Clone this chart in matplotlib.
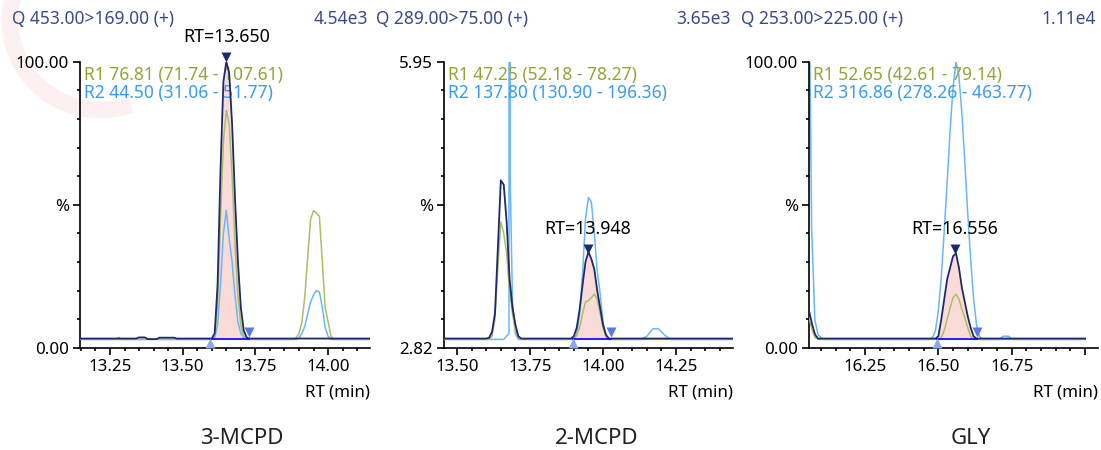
import numpy as np
import matplotlib.pyplot as plt
from matplotlib.patches import Arc
from matplotlib.ticker import FixedLocator, MultipleLocator
from matplotlib.transforms import offset_copy

plt.rcParams['font.family'] = ['Noto Sans', 'DejaVu Sans']

titles = ['3-MCPD', '2-MCPD', 'GLY']
headers = ['Q 453.00>169.00 (+)', 'Q 289.00>75.00 (+)', 'Q 253.00>225.00 (+)']
scales = ['4.54e3', '3.65e3', '1.11e4']
ymin_labels = ['0.00', '2.82', '0.00']
ymax_labels = ['100.00', '5.95', '100.00']
r1_labels = ['R1 76.81 (71.74 - 107.61)', 'R1 47.25 (52.18 - 78.27)', 'R1 52.65 (42.61 - 79.14)']
r2_labels = ['R2 44.50 (31.06 - 51.77)', 'R2 137.80 (130.90 - 196.36)', 'R2 316.86 (278.26 - 463.77)']
apex_rt = [13.650, 13.948, 16.556]
int_start = [13.595, 13.898, 16.494]
int_end = [13.728, 14.028, 16.630]
base_level = 3.2

# 3-MCPD
p1_rt_quan = [13.147, 13.34, 13.35, 13.37, 13.38, 13.41, 13.42, 13.47, 13.48, 13.60, 13.61, 13.62,
              13.63, 13.64, 13.65, 13.66, 13.67, 13.68, 13.69, 13.70, 13.71, 13.72, 13.73, 14.144]
p1_quan = [3.2, 3.2, 3.6, 3.6, 3.0, 3.0, 3.5, 3.5, 3.2, 3.2, 5, 22,
           62, 93, 100, 96, 78, 52, 30, 14, 6, 3.6, 3.2, 3.2]
p1_rt_q1 = [13.147, 13.60, 13.61, 13.62, 13.63, 13.64, 13.65, 13.66, 13.67, 13.68, 13.69, 13.70, 13.71,
            13.72, 13.88, 13.89, 13.90, 13.91, 13.92, 13.93, 13.94, 13.95, 13.96, 13.97, 13.98, 13.99,
            14.00, 14.01, 14.02, 14.144]
p1_q1 = [2.9, 2.9, 4, 15, 45, 72, 83, 78, 60, 36, 18, 8, 4,
         2.9, 2.9, 3.4, 5, 9, 18, 32, 45, 48, 47, 46, 30, 14,
         9, 4, 2.9, 2.9]
p1_rt_q2 = [13.147, 13.27, 13.28, 13.29, 13.60, 13.61, 13.62, 13.63, 13.64, 13.65, 13.66, 13.67, 13.68,
            13.69, 13.70, 13.71, 13.72, 13.89, 13.90, 13.91, 13.92, 13.93, 13.94, 13.95, 13.96, 13.97,
            13.98, 13.99, 14.00, 14.01, 14.144]
p1_q2 = [2.9, 2.9, 3.6, 2.9, 2.9, 3.5, 8, 22, 40, 48, 38, 30, 18,
         9, 5, 3.4, 2.9, 2.9, 3.4, 5, 7.5, 12, 16, 18.5, 20, 19.5,
         14, 7, 4, 2.9, 2.9]

# 2-MCPD
p2_rt_quan = [13.4555, 13.60, 13.61, 13.62, 13.63, 13.64, 13.65, 13.66, 13.67, 13.68, 13.69, 13.70,
              13.71, 13.72, 13.89, 13.90, 13.91, 13.92, 13.93, 13.94, 13.95, 13.96, 13.97, 13.98,
              13.99, 14.00, 14.01, 14.02, 14.445]
p2_quan = [3.2, 3.2, 3.5, 5.5, 12, 35, 58.5, 57, 44, 24, 14, 8,
           4, 3.2, 3.2, 4, 7, 13.5, 22, 30, 33.5, 31, 27.5, 20,
           14, 8, 4.5, 3.2, 3.2]
p2_rt_q1 = [13.4555, 13.61, 13.62, 13.63, 13.64, 13.65, 13.66, 13.67, 13.68, 13.69, 13.70, 13.71,
            13.72, 13.90, 13.91, 13.92, 13.93, 13.94, 13.95, 13.96, 13.97, 13.98, 13.99, 14.00,
            14.01, 14.02, 14.445]
p2_q1 = [2.9, 2.9, 4, 10, 28, 44, 40, 33, 20, 12, 6, 3.5,
         2.9, 2.9, 4.5, 7, 12, 16, 16.5, 17.5, 18.7, 17, 12, 7,
         4, 2.9, 2.9]
p2_rt_q2 = [13.4555, 13.66, 13.678, 13.680, 13.682, 13.69, 13.70, 13.71, 13.90, 13.91, 13.92, 13.93,
            13.94, 13.95, 13.96, 13.97, 13.98, 13.99, 14.00, 14.01, 14.02, 14.13, 14.15, 14.17,
            14.19, 14.21, 14.23, 14.445]
p2_q2 = [2.9, 2.9, 5, 2000, 60, 16, 5, 2.9, 2.9, 4.5, 12, 26,
         45, 52.5, 51, 40, 27, 19, 9, 4, 2.9, 2.9, 4, 6.6,
         6.6, 4.5, 2.9, 2.9]

# GLY
p3_rt_quan = [16.059, 16.07, 16.08, 16.09, 16.49, 16.50, 16.51, 16.52, 16.53, 16.54, 16.55, 16.56,
              16.57, 16.58, 16.59, 16.60, 16.61, 16.62, 16.63, 17.00]
p3_quan = [13, 8, 4.5, 3.2, 3.2, 4, 10, 17, 24, 28, 32, 33,
           28, 21, 16, 11, 7, 4, 3.2, 3.2]
p3_rt_q1 = [16.059, 16.07, 16.08, 16.09, 16.50, 16.51, 16.52, 16.53, 16.54, 16.55, 16.56, 16.57,
            16.58, 16.59, 16.60, 16.61, 16.62, 17.00]
p3_q1 = [10.5, 6, 3.5, 2.9, 2.9, 3.6, 6, 10, 14, 17.5, 18.7, 17,
         13.5, 10.5, 7, 4, 2.9, 2.9]
p3_rt_q2 = [16.059, 16.068, 16.079, 16.09, 16.108, 16.47, 16.48, 16.49, 16.50, 16.51, 16.52, 16.53,
            16.54, 16.55, 16.56, 16.57, 16.58, 16.59, 16.60, 16.61, 16.62, 16.63, 16.64, 16.65,
            16.71, 16.72, 16.74, 16.75, 17.00]
p3_q2 = [130, 42, 9.7, 4.5, 2.9, 2.9, 3.5, 6, 13, 25, 41, 58,
         76, 91, 100, 95, 82, 65, 47, 31, 17, 8, 4, 2.9,
         2.9, 4, 4, 2.9, 2.9]

x_ticks = [[13.25, 13.50, 13.75, 14.00],
           [13.50, 13.75, 14.00, 14.25],
           [16.25, 16.50, 16.75, 17.00]]
x_ticklabels = [['13.25', '13.50', '13.75', '14.00'],
                ['13.50', '13.75', '14.00', '14.25'],
                ['16.25', '16.50', '16.75', '']]

traces = [(p1_rt_quan, p1_quan, p1_rt_q1, p1_q1, p1_rt_q2, p1_q2),
          (p2_rt_quan, p2_quan, p2_rt_q1, p2_q1, p2_rt_q2, p2_q2),
          (p3_rt_quan, p3_quan, p3_rt_q1, p3_q1, p3_rt_q2, p3_q2)]

#========== colores ==========
c_head = '#3b4a8a'
c_quan = '#1d2b6a'
c_q1_txt = '#8fa834'
c_q2_txt = '#3a9cf0'
c_q1 = '#a9bf68'
c_q2 = '#6cb6f6'
c_fill = '#fadbd7'
c_int = '#1010ff'
c_start = '#8ea6f2'
c_end = '#5a78e4'

W, H = 1101, 450
fig = plt.figure(figsize=(W / 100, H / 100), dpi=100)

# marca de agua tenue (esquina superior izquierda)
wm = Arc((100, 430), 180, 180, theta1=150, theta2=290, transform=None,
         lw=12, color='#fdf0f1', zorder=0)
fig.add_artist(wm)

# [izq, der, arriba, abajo] en pixeles
boxes = [(80, 370, 61.7, 347.7), (444, 733, 61.7, 347.7), (809, 1098, 61.7, 347.7)]
xlims = [(13.147, 14.144), (13.4555, 14.445), (16.059, 17.044)]
title_x = [242, 597, 971]

for i in range(3):
    l, r, t, b = boxes[i]
    ax = fig.add_axes([l / W, 1 - b / H, (r - l) / W, (b - t) / H])
    rtq, q, rt1, y1, rt2, y2 = [np.array(a, dtype=float) for a in traces[i]]

    # relleno del pico integrado
    m = (rtq > int_start[i]) & (rtq < int_end[i])
    xf = np.concatenate([[int_start[i]], rtq[m], [int_end[i]]])
    yf = np.interp(xf, rtq, q)
    ax.fill_between(xf, base_level, yf, color=c_fill, lw=0, zorder=1)

    ax.plot(rt2, y2, color=c_q2, lw=1.1, zorder=2)
    ax.plot(rt1, y1, color=c_q1, lw=1.1, zorder=3)
    ax.plot(rtq, q, color=c_quan, lw=1.3, zorder=4)
    ax.plot([int_start[i], int_end[i]], [base_level] * 2, color=c_int, lw=1.3, zorder=5)

    tr_dn = offset_copy(ax.transData, fig=fig, x=0, y=6.5, units='dots')
    tr_up = offset_copy(ax.transData, fig=fig, x=0, y=-4.5, units='dots')
    ax.plot(int_start[i], base_level, marker='^', ms=7, color=c_start, mec='none',
            transform=tr_up, clip_on=False, zorder=6)
    ax.plot(int_end[i], base_level, marker='v', ms=7, color=c_end, mec='none',
            transform=tr_dn, clip_on=False, zorder=6)

    ya = np.interp(apex_rt[i], rtq, q)
    tr_ap = offset_copy(ax.transData, fig=fig, x=0, y=5, units='dots')
    ax.plot(apex_rt[i], ya, marker='v', ms=7, color=c_quan, mec='none',
            transform=tr_ap, clip_on=False, zorder=6)
    ax.annotate(f'RT={apex_rt[i]:.3f}', xy=(apex_rt[i], ya), xytext=(0, 25),
                textcoords='offset pixels', ha='center', va='center', fontsize=12.8,
                annotation_clip=False, zorder=7)

    ax.set_xlim(*xlims[i])
    ax.set_ylim(0, 100)
    for s in ['top', 'right']:
        ax.spines[s].set_visible(False)
    for s in ['left', 'bottom']:
        ax.spines[s].set_linewidth(1.2)
    ax.patch.set_alpha(0)

    ax.yaxis.set_major_locator(FixedLocator([0, 50, 100]))
    ax.set_yticklabels([ymin_labels[i], '%', ymax_labels[i]])
    ax.yaxis.set_minor_locator(MultipleLocator(10))
    ax.xaxis.set_major_locator(FixedLocator(x_ticks[i]))
    ax.set_xticklabels(x_ticklabels[i])
    ax.xaxis.set_minor_locator(MultipleLocator(0.05))
    ax.tick_params(which='major', length=5, width=1.2, labelsize=12.2, pad=3)
    ax.tick_params(which='minor', length=2.5, width=1.2)

    ax.text(1.0, -0.155, 'RT (min)', transform=ax.transAxes, ha='right', va='center', fontsize=12.2)
    ax.text(4 / (r - l), 0.955, r1_labels[i], transform=ax.transAxes, color=c_q1_txt,
            ha='left', va='center', fontsize=12.5)
    ax.text(4 / (r - l), 0.892, r2_labels[i], transform=ax.transAxes, color=c_q2_txt,
            ha='left', va='center', fontsize=12.5)

    fig.text((l - 68) / W, 1 - 19 / H, headers[i], color=c_head, ha='left', va='center', fontsize=12.5)
    fig.text((r - 2) / W, 1 - 19 / H, scales[i], color=c_head, ha='right', va='center', fontsize=12.5)
    fig.text(title_x[i] / W, 1 - 438 / H, titles[i], ha='center', va='center', fontsize=16,
             fontweight='light', color='#222222')

fig.savefig('out.png', dpi=100)
